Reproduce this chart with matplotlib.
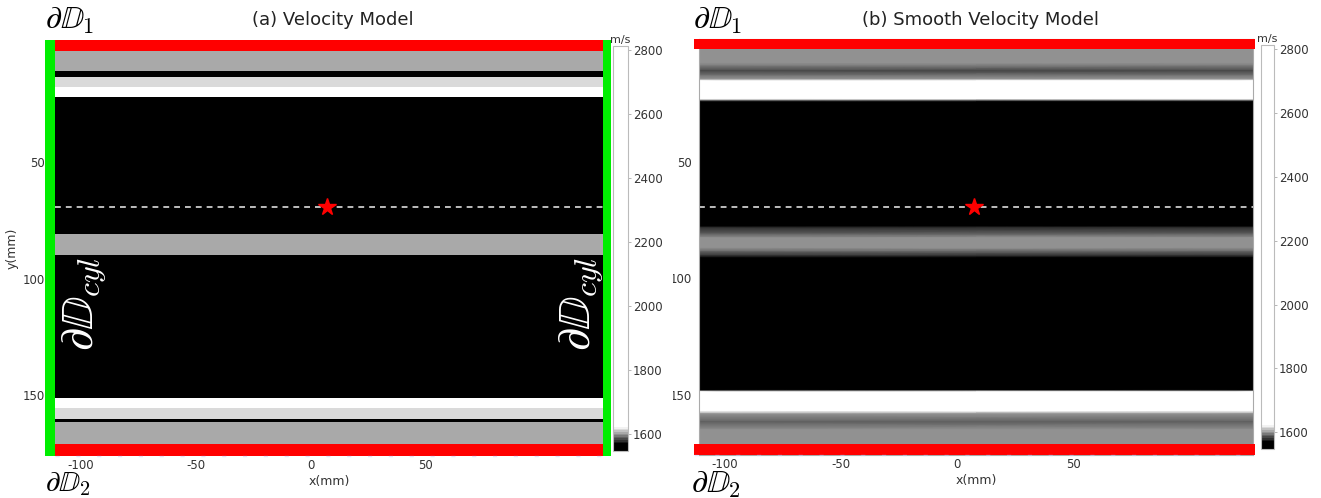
import numpy as np
import matplotlib
matplotlib.use("Agg")
import matplotlib.pyplot as plt
from matplotlib.colors import LinearSegmentedColormap, Normalize
from matplotlib.patches import Rectangle

plt.rcParams["mathtext.fontset"] = "cm"
plt.rcParams["axes.unicode_minus"] = False

# ---------------------------
# Data (mm, m/s)
# ---------------------------

x_extent = [-111, 127]

# layered ("true") model: layer edges along y and velocity per layer
layer_edges = [2.4, 10.9, 13.5, 17.8, 22.1, 80.9, 89.9, 151.3, 155.6, 160.3, 161.6, 171.0]
layer_vel = [1603, 1500, 1614, 2700, 1500, 1603, 1500, 2700, 1614, 1500, 1603]

# smooth model: velocity read at depth nodes
smooth_y = [1.5, 7.5, 8.8, 10.9, 13.1, 14.4, 15.2, 23.0, 23.6, 24.2,
            77.5, 78.3, 80.9, 82.6, 86.9, 88.6, 90.3, 91.2,
            147.9, 148.7, 156.9, 158.2, 161.6, 165.0, 166.3, 171.0]
smooth_vel = [1602, 1602, 1595, 1585, 1594, 1600, 2700, 2700, 1597, 1500,
              1500, 1581, 1590, 1600, 1600, 1590, 1581, 1500,
              1500, 2700, 2700, 1602, 1590, 1598, 1602, 1602]

source_x, source_y = 7, 69.3
cbar_ticks = [1600, 1800, 2000, 2200, 2400, 2600, 2800]
x_ticks = [-100, -50, 0, 50]
y_ticks = [50, 100, 150]

vmin, vmax = 1548, 2812

# ---------------------------
# Colormap: black below ~1568, white above ~1620
# ---------------------------
lo = (1568 - vmin) / (vmax - vmin)
hi = (1620 - vmin) / (vmax - vmin)
cmap = LinearSegmentedColormap.from_list(
    "vel", [(0, "black"), (lo, "black"), (hi, "white"), (1, "white")])
norm = Normalize(vmin=vmin, vmax=vmax)

W, H = 1321, 498
fig = plt.figure(figsize=(W / 100, H / 100), dpi=100)


def px_box(x0, y0, x1, y1):
    return [x0 / W, 1 - y1 / H, (x1 - x0) / W, (y1 - y0) / H]


RED = "#ff0000"
GREEN = "#00ee00"
TICK_COLOR = "#333333"

# ---------------------------
# (a) Velocity model
# ---------------------------
ax1 = fig.add_axes(px_box(55, 40, 603, 456))
mesh1 = ax1.pcolormesh(x_extent, layer_edges, np.array(layer_vel)[:, None],
                       cmap=cmap, norm=norm, shading="flat")
ax1.set_xlim(x_extent)
ax1.set_ylim(176.2, -2.4)
for s in ax1.spines.values():
    s.set_visible(False)

# boundaries
ax1.add_patch(Rectangle((x_extent[0], -2.4), x_extent[1] - x_extent[0], 4.8,
                        color=RED, lw=0, zorder=3))
ax1.add_patch(Rectangle((x_extent[0], 171.0), x_extent[1] - x_extent[0], 5.2,
                        color=RED, lw=0, zorder=3))
ax1.add_patch(Rectangle((-115.2, -2.4), 4.2, 178.6, color=GREEN, lw=0,
                        zorder=4, clip_on=False))
ax1.add_patch(Rectangle((127, -2.4), 3.5, 178.6, color=GREEN, lw=0,
                        zorder=4, clip_on=False))

ax1.plot(x_extent, [source_y, source_y], color="#dddddd", lw=1.2,
         ls=(0, (3.5, 3)), zorder=2)
ax1.plot([source_x], [source_y], marker="*", color=RED, ms=13, mec=RED, zorder=5)
ax1.plot(x_extent, [176.0, 176.0], color="#c8c8f4", lw=1, ls=(0, (3, 12)),
         zorder=3, clip_on=False, alpha=0.5)

ax1.text(-98.5, 111, r"$\partial\mathbb{D}_{cyl}$", rotation=90, color="white",
         fontsize=33, ha="center", va="center", zorder=6)
ax1.text(117.5, 111, r"$\partial\mathbb{D}_{cyl}$", rotation=90, color="white",
         fontsize=33, ha="center", va="center", zorder=6)

ax1.set_xticks(x_ticks)
ax1.set_yticks(y_ticks)
ax1.tick_params(axis="both", length=0, labelsize=8.5, colors=TICK_COLOR)
ax1.tick_params(axis="y", pad=7)
ax1.tick_params(axis="x", pad=2)
ax1.set_xlabel("x(mm)", fontsize=9, color=TICK_COLOR, labelpad=2)
ax1.set_ylabel("y(mm)", fontsize=9, color=TICK_COLOR, labelpad=3)

# ---------------------------
# (b) Smooth velocity model
# ---------------------------
ax2 = fig.add_axes(px_box(699, 39, 1253, 455))
X, Y = np.meshgrid(x_extent, smooth_y)
C = np.column_stack([smooth_vel, smooth_vel])
mesh2 = ax2.pcolormesh(X, Y, C, cmap=cmap, norm=norm, shading="gouraud")
ax2.set_xlim(x_extent)
ax2.set_ylim(175.8, -2.8)
for s in ax2.spines.values():
    s.set_color("#aaaaaa")
    s.set_linewidth(0.8)

ax2.add_patch(Rectangle((-113.3, -2.8), 241.2, 4.3, color=RED, lw=0,
                        zorder=3, clip_on=False))
ax2.add_patch(Rectangle((-113.3, 171.0), 241.2, 4.8, color=RED, lw=0,
                        zorder=3, clip_on=False))
ax2.plot(x_extent, [source_y, source_y], color="#dddddd", lw=1.2,
         ls=(0, (3.5, 3)), zorder=2)
ax2.plot([source_x], [source_y], marker="*", color=RED, ms=13, mec=RED, zorder=5)
ax2.plot([-113.3, 127.9], [176.0, 176.0], color="#c8c8f4", lw=1,
         ls=(0, (3, 12)), zorder=3, clip_on=False, alpha=0.5)

ax2.set_xticks(x_ticks)
ax2.set_yticks(y_ticks)
ax2.tick_params(axis="both", length=0, labelsize=8.5, colors=TICK_COLOR)
ax2.tick_params(axis="y", pad=5)
ax2.tick_params(axis="x", pad=2)
ax2.set_xlabel("x(mm)", fontsize=9, color=TICK_COLOR, labelpad=2)

# ---------------------------
# Colorbars
# ---------------------------
for mesh, box in [(mesh1, px_box(613, 46, 628, 451)),
                  (mesh2, px_box(1261, 45, 1274, 449))]:
    cax = fig.add_axes(box)
    cb = fig.colorbar(mesh, cax=cax, ticks=cbar_ticks)
    cb.outline.set_edgecolor("#bbbbbb")
    cb.outline.set_linewidth(0.8)
    cax.tick_params(length=2.5, width=0.6, color="#aaaaaa", labelsize=8.5,
                    labelcolor=TICK_COLOR, pad=1)
    cax.set_title("m/s", fontsize=8, color=TICK_COLOR, pad=2)

# the right panel is a cropped picture: its y labels are cut on the left
fig.add_artist(Rectangle((664 / W, 0.15), 9 / W, 0.7, transform=fig.transFigure,
                         color="white", lw=0, zorder=10))

# ---------------------------
# Titles and boundary names
# ---------------------------
fig.text(333 / W, 1 - 20 / H, "(a) Velocity Model", fontsize=13,
         ha="center", va="center", color="#222222")
fig.text(980 / W, 1 - 20 / H, "(b) Smooth Velocity Model", fontsize=13,
         ha="center", va="center", color="#222222")
fig.text(70 / W, 1 - 21 / H, r"$\partial\mathbb{D}_1$", fontsize=23,
         ha="center", va="center")
fig.text(68 / W, 1 - 484 / H, r"$\partial\mathbb{D}_2$", fontsize=21,
         ha="center", va="center")
fig.text(718 / W, 1 - 21 / H, r"$\partial\mathbb{D}_1$", fontsize=23,
         ha="center", va="center")
fig.text(716 / W, 1 - 484 / H, r"$\partial\mathbb{D}_2$", fontsize=23,
         ha="center", va="center")

fig.savefig("out.png", dpi=100)
